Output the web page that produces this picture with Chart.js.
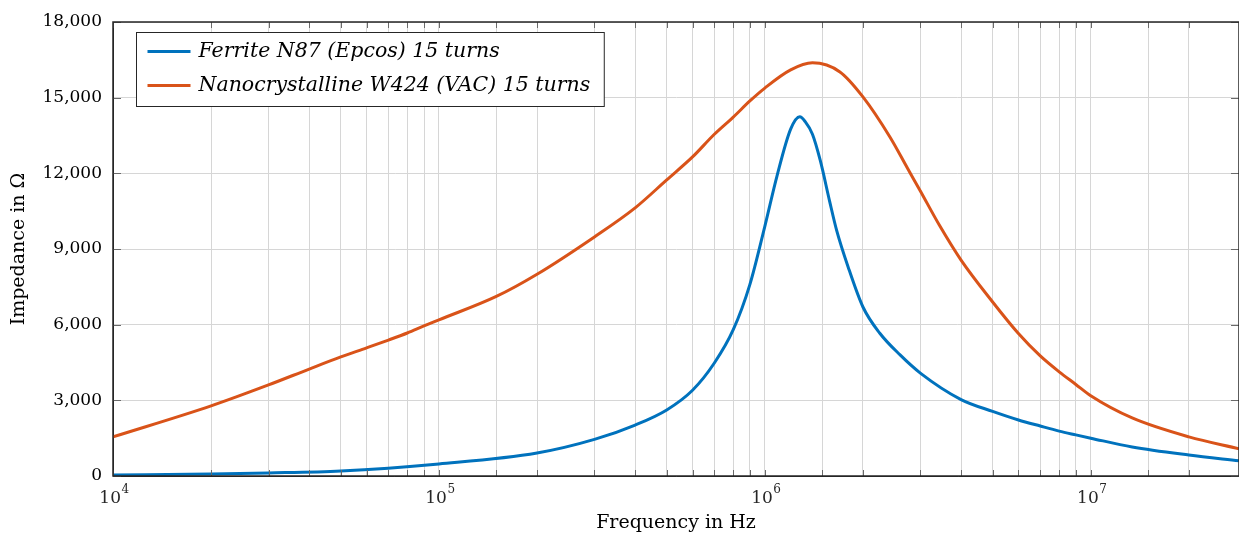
<!DOCTYPE html>
<html>
<head>
<meta charset="utf-8">
<script src="https://cdn.jsdelivr.net/npm/chart.js@4/dist/chart.umd.min.js"></script>
<style>
  html, body { margin: 0; padding: 0; background: #fff; }
</style>
</head>
<body>
<canvas id="impedance" width="1239" height="535"></canvas>
<script>
// Frequency points (Hz) and impedance (Ohm)
const ferriteFreq = [1e4, 2e4, 3e4, 5e4, 1e5, 2e5, 3e5, 4e5, 5e5, 6e5, 7e5, 8e5, 9e5, 1e6, 1.09e6, 1.2e6, 1.28e6, 1.33e6, 1.4e6, 1.48e6, 1.58e6, 1.66e6, 1.8e6, 2e6, 2.25e6, 2.6e6, 3e6, 4e6, 5e6, 6e6, 7e6, 8e6, 9e6, 1e7, 1.34e7, 2e7, 2.85e7];
const ferriteZ = [40, 80, 120, 200, 480, 910, 1450, 2020, 2620, 3400, 4480, 5800, 7600, 9900, 11900, 13750, 14240, 14050, 13550, 12500, 10900, 9750, 8300, 6700, 5670, 4800, 4080, 3030, 2560, 2220, 1980, 1780, 1630, 1500, 1150, 830, 600];

const nanoFreq = [1e4, 2e4, 3e4, 4e4, 5e4, 6e4, 7e4, 8e4, 9e4, 1e5, 1.5e5, 2e5, 3e5, 4e5, 5e5, 6e5, 7e5, 8e5, 9e5, 1e6, 1.2e6, 1.4e6, 1.7e6, 2e6, 2.42e6, 2.74e6, 3e6, 3.43e6, 4e6, 5e6, 6e6, 7e6, 8e6, 9e6, 1e7, 1.34e7, 2e7, 2.85e7];
const nanoZ = [1550, 2780, 3610, 4240, 4720, 5080, 5390, 5670, 5950, 6190, 7120, 8000, 9480, 10630, 11740, 12650, 13550, 14230, 14870, 15380, 16100, 16380, 16020, 15030, 13440, 12200, 11300, 9950, 8560, 6900, 5650, 4760, 4130, 3630, 3180, 2300, 1550, 1080];

const seriesLabels = ['Ferrite N87 (Epcos) 15 turns', 'Nanocrystalline W424 (VAC) 15 turns'];
const decadeTicks = [1e4, 1e5, 1e6, 1e7];

const axisColor = '#262626';
const gridColor = '#d6d6d6';
const serif = "'DejaVu Serif', serif";

function toPoints(xs, ys) {
  return xs.map((x, i) => ({ x: x, y: ys[i] }));
}

// MATLAB-like frame, inner ticks, 10^n labels and boxed legend
const matlabDecor = {
  id: 'matlabDecor',
  afterDraw(chart) {
    const ctx = chart.ctx;
    const a = chart.chartArea;
    const xs = chart.scales.x;
    const ys = chart.scales.y;
    ctx.save();

    // inner tick marks
    ctx.strokeStyle = '#6a6a6a';
    ctx.lineWidth = 1;
    ctx.beginPath();
    xs.ticks.forEach(t => {
      const px = Math.round(xs.getPixelForValue(t.value)) + 0.5;
      ctx.moveTo(px, a.bottom); ctx.lineTo(px, a.bottom - 6);
      ctx.moveTo(px, a.top); ctx.lineTo(px, a.top + 6);
    });
    ys.ticks.forEach(t => {
      const py = Math.round(ys.getPixelForValue(t.value)) + 0.5;
      ctx.moveTo(a.left, py); ctx.lineTo(a.left + 8, py);
      ctx.moveTo(a.right, py); ctx.lineTo(a.right - 8, py);
    });
    ctx.stroke();

    // frame
    ctx.strokeStyle = axisColor;
    ctx.lineWidth = 1.5;
    ctx.strokeRect(a.left, a.top, a.right - a.left, a.bottom - a.top);

    // decade labels 10^n
    ctx.fillStyle = axisColor;
    ctx.textBaseline = 'alphabetic';
    ctx.textAlign = 'left';
    decadeTicks.forEach(v => {
      const px = xs.getPixelForValue(v);
      const exp = String(Math.round(Math.log10(v)));
      ctx.font = '17px ' + serif;
      const wBase = ctx.measureText('10').width;
      ctx.font = '12px ' + serif;
      const wExp = ctx.measureText(exp).width;
      const x0 = px - (wBase + wExp) / 2 + 1;
      ctx.font = '17px ' + serif;
      ctx.fillText('10', x0, a.bottom + 27);
      ctx.font = '12px ' + serif;
      ctx.fillText(exp, x0 + wBase + 0.5, a.bottom + 17);
    });

    // legend box
    const ds = chart.data.datasets;
    ctx.font = 'italic 20.5px ' + serif;
    let textW = 0;
    ds.forEach(d => { textW = Math.max(textW, ctx.measureText(d.label).width); });
    const bx = a.left + 23.5, by = a.top + 10.5;
    const bw = 62 + textW + 14, bh = 74;
    ctx.fillStyle = '#ffffff';
    ctx.fillRect(bx, by, bw, bh);
    ctx.strokeStyle = axisColor;
    ctx.lineWidth = 1;
    ctx.strokeRect(bx, by, bw, bh);
    ds.forEach((d, i) => {
      const cy = by + 19 + i * 34;
      ctx.strokeStyle = d.borderColor;
      ctx.lineWidth = 3;
      ctx.beginPath();
      ctx.moveTo(bx + 11, cy); ctx.lineTo(bx + 54, cy);
      ctx.stroke();
      ctx.fillStyle = '#000000';
      ctx.textBaseline = 'middle';
      ctx.fillText(d.label, bx + 62, cy);
    });
    ctx.restore();
  }
};

const chart = new Chart(document.getElementById('impedance'), {
  type: 'line',
  data: {
    datasets: [
      {
        label: seriesLabels[0],
        data: toPoints(ferriteFreq, ferriteZ),
        borderColor: '#0072BD',
        borderWidth: 3,
        pointRadius: 0,
        cubicInterpolationMode: 'monotone',
        fill: false
      },
      {
        label: seriesLabels[1],
        data: toPoints(nanoFreq, nanoZ),
        borderColor: '#D95319',
        borderWidth: 3,
        pointRadius: 0,
        cubicInterpolationMode: 'monotone',
        fill: false
      }
    ]
  },
  options: {
    responsive: false,
    animation: false,
    layout: { padding: { top: 22, right: 0, left: 0, bottom: 0 } },
    plugins: {
      legend: { display: false },
      tooltip: { enabled: false }
    },
    scales: {
      x: {
        type: 'logarithmic',
        min: 1e4,
        max: 2.85e7,
        grid: { color: gridColor, drawTicks: false },
        border: { color: axisColor },
        ticks: { display: false },
        title: {
          display: true,
          text: 'Frequency in Hz',
          color: '#000',
          font: { family: serif, size: 19 },
          padding: { top: 0, bottom: 1 }
        },
        afterFit(scale) { scale.height = 59; }
      },
      y: {
        min: 0,
        max: 18000,
        grid: { color: gridColor, drawTicks: false },
        border: { color: axisColor },
        ticks: {
          stepSize: 3000,
          padding: 11,
          color: '#000',
          font: { family: serif, size: 17 }
        },
        title: {
          display: true,
          text: 'Impedance in Ω',
          color: '#000',
          font: { family: serif, size: 19 },
          padding: { top: 8, bottom: 0 }
        },
        afterFit(scale) { scale.width = 113; }
      }
    }
  },
  plugins: [matlabDecor]
});
</script>
</body>
</html>
